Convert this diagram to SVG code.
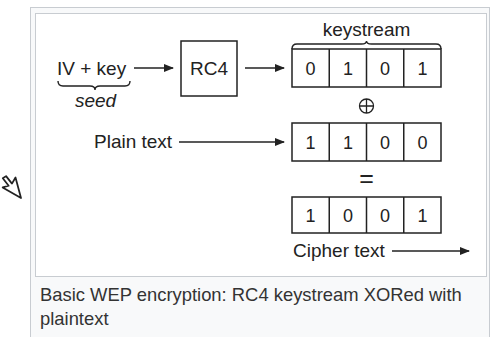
<svg xmlns="http://www.w3.org/2000/svg" width="494" height="337" viewBox="0 0 494 337">
  <defs>
    <style>
      .lbl { font-family: "Liberation Sans", Arial, sans-serif; font-size: 19px; fill: #222; }
      .bit { font-family: "Liberation Sans", Arial, sans-serif; font-size: 18px; fill: #222; text-anchor: middle; }
      .cap { font-family: "Liberation Sans", Arial, sans-serif; font-size: 18.4px; fill: #333; }
      .op { font-family: "Liberation Sans", Arial, sans-serif; font-size: 25px; fill: #222; text-anchor: middle; }
      .box { fill: #fff; stroke: #222; stroke-width: 1.5; }
      .wire { fill: none; stroke: #222; stroke-width: 1.5; }
      .brace { fill: none; stroke: #222; stroke-width: 1.4; }
    </style>
    <marker id="head" viewBox="0 0 10 8" refX="9" refY="4" markerWidth="10" markerHeight="8" markerUnits="userSpaceOnUse" orient="auto">
      <path d="M0,0 L10,4 L0,8 z" fill="#222"/>
    </marker>
  </defs>

  <rect width="494" height="337" fill="#fff"/>

  <!-- thumbnail frame -->
  <rect x="30.5" y="7.5" width="459" height="340" fill="#f8f9fa" stroke="#c8ccd1"/>
  <rect x="35.5" y="13.5" width="451" height="263" fill="#fff" stroke="#c8ccd1"/>

  <!-- pointer cursor -->
  <g id="cursor" transform="translate(21,198) rotate(165) scale(1.25)">
    <path d="M0,0 L0,17 L4,13 L7,20 L10,19 L7,12 L12,12 z" fill="#fff" stroke="#222" stroke-width="1.4" stroke-linejoin="round"/>
  </g>

  <!-- connectors -->
  <g id="connectors">
    <line class="wire" x1="134" y1="68" x2="173" y2="68" marker-end="url(#head)"/>
    <line class="wire" x1="245" y1="68" x2="284" y2="68" marker-end="url(#head)"/>
    <line class="wire" x1="179" y1="142" x2="284" y2="142" marker-end="url(#head)"/>
    <line class="wire" x1="392" y1="251" x2="469" y2="251" marker-end="url(#head)"/>
  </g>

  <!-- seed: IV + key -->
  <g id="seed">
    <text class="lbl" x="57" y="75">IV + key</text>
    <path class="brace" d="M58,81 q0,5 5,5 h27 q5,0 5,4 q0,-4 5,-4 h25 q5,0 5,-5"/>
    <text class="lbl" x="95.5" y="107" text-anchor="middle" font-style="italic">seed</text>
  </g>

  <!-- RC4 cipher -->
  <g id="rc4">
    <rect class="box" x="181" y="41" width="56" height="55"/>
    <text class="lbl" x="209" y="75" text-anchor="middle">RC4</text>
  </g>

  <!-- keystream bits -->
  <g id="keystream">
    <text class="lbl" x="366.5" y="36" text-anchor="middle">keystream</text>
    <path class="brace" d="M292,49 q0,-5 5,-5 h64.5 q5,0 5,-3 q0,3 5,3 h64.5 q5,0 5,5"/>
    <rect class="box" x="292" y="49" width="149" height="38"/>
    <path class="wire" d="M329.25,49 V87 M366.5,49 V87 M403.75,49 V87"/>
    <text class="bit" x="310.6" y="75">0</text>
    <text class="bit" x="347.9" y="75">1</text>
    <text class="bit" x="385.1" y="75">0</text>
    <text class="bit" x="422.4" y="75">1</text>
  </g>

  <!-- XOR operator -->
  <g id="xor">
    <circle cx="366.5" cy="106" r="7" fill="none" stroke="#222" stroke-width="1.3"/>
    <path d="M359.5,106 H373.5 M366.5,99 V113" stroke="#222" stroke-width="1.3"/>
  </g>

  <!-- plaintext bits -->
  <g id="plaintext">
    <text class="lbl" x="94" y="148">Plain text</text>
    <rect class="box" x="292" y="123" width="149" height="38"/>
    <path class="wire" d="M329.25,123 V161 M366.5,123 V161 M403.75,123 V161"/>
    <text class="bit" x="310.6" y="149">1</text>
    <text class="bit" x="347.9" y="149">1</text>
    <text class="bit" x="385.1" y="149">0</text>
    <text class="bit" x="422.4" y="149">0</text>
  </g>

  <!-- equals -->
  <g id="equals">
    <text class="op" x="366.5" y="187">=</text>
  </g>

  <!-- ciphertext bits -->
  <g id="ciphertext">
    <rect class="box" x="292" y="197" width="149" height="36"/>
    <path class="wire" d="M329.25,197 V233 M366.5,197 V233 M403.75,197 V233"/>
    <text class="bit" x="310.6" y="222">1</text>
    <text class="bit" x="347.9" y="222">0</text>
    <text class="bit" x="385.1" y="222">0</text>
    <text class="bit" x="422.4" y="222">1</text>
    <text class="lbl" x="293" y="257">Cipher text</text>
  </g>

  <!-- caption -->
  <g id="caption">
    <text class="cap" x="40" y="301">Basic WEP encryption: RC4 keystream XORed with</text>
    <text class="cap" x="40" y="325">plaintext</text>
  </g>
</svg>
